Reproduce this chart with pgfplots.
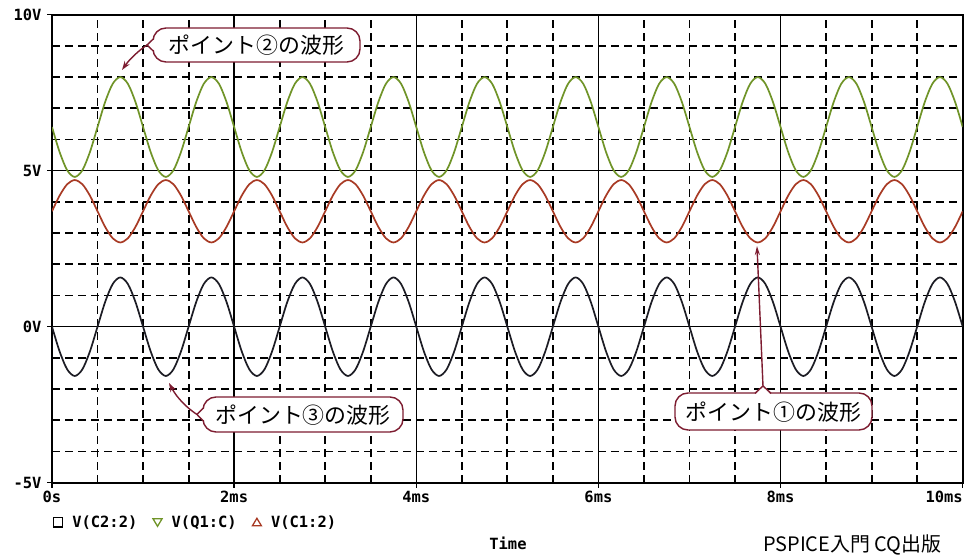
\documentclass[border=0pt]{standalone}
\usepackage{fontspec}
\usepackage{pgfplots}
\pgfplotsset{compat=1.18}
\usepackage{pgfplotstable}
\usetikzlibrary{arrows.meta}
\newfontfamily\psfont{DejaVu Sans Mono}
\newfontfamily\jp{Noto Sans CJK JP}
\newcommand{\psf}{\psfont\bfseries\fontsize{15.5}{16}\selectfont}
\definecolor{wgreen}{RGB}{112,148,40}
\definecolor{wred}{RGB}{168,58,36}
\definecolor{wblack}{RGB}{28,28,36}
\definecolor{callout}{RGB}{125,28,48}

\pgfplotstableread{
t b g r
0.0000 0 6.4 3.7
0.0833 -0.79 5.6 4.2
0.1667 -1.368 5.014 4.566
0.2500 -1.58 4.8 4.7
0.3333 -1.368 5.014 4.566
0.4167 -0.79 5.6 4.2
0.5000 0 6.4 3.7
0.5833 0.79 7.2 3.2
0.6667 1.368 7.786 2.834
0.7500 1.58 8.0 2.7
0.8333 1.368 7.786 2.834
0.9167 0.79 7.2 3.2
1.0000 0 6.4 3.7
1.0833 -0.79 5.6 4.2
1.1667 -1.368 5.014 4.566
1.2500 -1.58 4.8 4.7
1.3333 -1.368 5.014 4.566
1.4167 -0.79 5.6 4.2
1.5000 0 6.4 3.7
1.5833 0.79 7.2 3.2
1.6667 1.368 7.786 2.834
1.7500 1.58 8.0 2.7
1.8333 1.368 7.786 2.834
1.9167 0.79 7.2 3.2
2.0000 0 6.4 3.7
2.0833 -0.79 5.6 4.2
2.1667 -1.368 5.014 4.566
2.2500 -1.58 4.8 4.7
2.3333 -1.368 5.014 4.566
2.4167 -0.79 5.6 4.2
2.5000 0 6.4 3.7
2.5833 0.79 7.2 3.2
2.6667 1.368 7.786 2.834
2.7500 1.58 8.0 2.7
2.8333 1.368 7.786 2.834
2.9167 0.79 7.2 3.2
3.0000 0 6.4 3.7
3.0833 -0.79 5.6 4.2
3.1667 -1.368 5.014 4.566
3.2500 -1.58 4.8 4.7
3.3333 -1.368 5.014 4.566
3.4167 -0.79 5.6 4.2
3.5000 0 6.4 3.7
3.5833 0.79 7.2 3.2
3.6667 1.368 7.786 2.834
3.7500 1.58 8.0 2.7
3.8333 1.368 7.786 2.834
3.9167 0.79 7.2 3.2
4.0000 0 6.4 3.7
4.0833 -0.79 5.6 4.2
4.1667 -1.368 5.014 4.566
4.2500 -1.58 4.8 4.7
4.3333 -1.368 5.014 4.566
4.4167 -0.79 5.6 4.2
4.5000 0 6.4 3.7
4.5833 0.79 7.2 3.2
4.6667 1.368 7.786 2.834
4.7500 1.58 8.0 2.7
4.8333 1.368 7.786 2.834
4.9167 0.79 7.2 3.2
5.0000 0 6.4 3.7
5.0833 -0.79 5.6 4.2
5.1667 -1.368 5.014 4.566
5.2500 -1.58 4.8 4.7
5.3333 -1.368 5.014 4.566
5.4167 -0.79 5.6 4.2
5.5000 0 6.4 3.7
5.5833 0.79 7.2 3.2
5.6667 1.368 7.786 2.834
5.7500 1.58 8.0 2.7
5.8333 1.368 7.786 2.834
5.9167 0.79 7.2 3.2
6.0000 0 6.4 3.7
6.0833 -0.79 5.6 4.2
6.1667 -1.368 5.014 4.566
6.2500 -1.58 4.8 4.7
6.3333 -1.368 5.014 4.566
6.4167 -0.79 5.6 4.2
6.5000 0 6.4 3.7
6.5833 0.79 7.2 3.2
6.6667 1.368 7.786 2.834
6.7500 1.58 8.0 2.7
6.8333 1.368 7.786 2.834
6.9167 0.79 7.2 3.2
7.0000 0 6.4 3.7
7.0833 -0.79 5.6 4.2
7.1667 -1.368 5.014 4.566
7.2500 -1.58 4.8 4.7
7.3333 -1.368 5.014 4.566
7.4167 -0.79 5.6 4.2
7.5000 0 6.4 3.7
7.5833 0.79 7.2 3.2
7.6667 1.368 7.786 2.834
7.7500 1.58 8.0 2.7
7.8333 1.368 7.786 2.834
7.9167 0.79 7.2 3.2
8.0000 0 6.4 3.7
8.0833 -0.79 5.6 4.2
8.1667 -1.368 5.014 4.566
8.2500 -1.58 4.8 4.7
8.3333 -1.368 5.014 4.566
8.4167 -0.79 5.6 4.2
8.5000 0 6.4 3.7
8.5833 0.79 7.2 3.2
8.6667 1.368 7.786 2.834
8.7500 1.58 8.0 2.7
8.8333 1.368 7.786 2.834
8.9167 0.79 7.2 3.2
9.0000 0 6.4 3.7
9.0833 -0.79 5.6 4.2
9.1667 -1.368 5.014 4.566
9.2500 -1.58 4.8 4.7
9.3333 -1.368 5.014 4.566
9.4167 -0.79 5.6 4.2
9.5000 0 6.4 3.7
9.5833 0.79 7.2 3.2
9.6667 1.368 7.786 2.834
9.7500 1.58 8.0 2.7
9.8333 1.368 7.786 2.834
9.9167 0.79 7.2 3.2
10.0000 0 6.4 3.7
}\wave

\begin{document}
\begin{tikzpicture}
\path[use as bounding box, fill=white] (0,0) rectangle (965bp,556bp);
\begin{axis}[
  at={(52bp,73.3bp)}, anchor=south west, scale only axis,
  width=910.7bp, height=468bp,
  xmin=0, xmax=10, ymin=-5, ymax=10,
  xtick={0,2,4,6,8,10},
  xticklabels={0s,2ms,4ms,6ms,8ms,{\llap{10ms}}},
  ytick={-5,0,5,10},
  yticklabels={-5V,0V,5V,10V},
  minor x tick num=3, minor y tick num=4,
  grid=both,
  major grid style={black, line width=1.3bp},
  minor grid style={black, line width=1.9bp, dash pattern=on 8bp off 5bp},
  axis line style={black, line width=1.7bp},
  tick pos=left, tick align=center,
  major tick length=10bp, minor tick length=0pt,
  major tick style={black, line width=1.4bp},
  xticklabel style={font=\psf},
  yticklabel style={font=\psf, xshift=-2bp},
  legend columns=3,
  legend cell align=left,
  legend style={at={(0,0)}, anchor=north west, xshift=1bp, yshift=-33bp,
    draw=none, fill=none, inner sep=0pt, outer sep=0pt,
    font=\psf,
    nodes={inner sep=0pt},
    /tikz/every odd column/.append style={column sep=9bp},
    /tikz/every even column/.append style={column sep=15bp}},
]
\addplot[forget plot, wblack, line width=1.7bp, smooth] table[x=t, y=b] {\wave};
\addplot[forget plot, wgreen, line width=1.7bp, smooth] table[x=t, y=g] {\wave};
\addplot[forget plot, wred, line width=1.7bp, smooth] table[x=t, y=r] {\wave};
\addlegendimage{legend image code/.code={\draw[black, line width=1.3bp] (0.6bp,-4.6bp) rectangle (9.6bp,4.6bp);}}
\addlegendentry{V(C2:2)}
\addlegendimage{legend image code/.code={\draw[wgreen, line width=1.3bp] (0.5bp,3.5bp) -- (9.5bp,3.5bp) -- (5bp,-4bp) -- cycle;}}
\addlegendentry{V(Q1:C)}
\addlegendimage{legend image code/.code={\draw[wred, line width=1.3bp] (0.5bp,-3.5bp) -- (9.5bp,-3.5bp) -- (5bp,4bp) -- cycle;}}
\addlegendentry{V(C1:2)}
\end{axis}

\begin{scope}[x=1bp, y=-1bp, shift={(0bp,556bp)}]
  % callout 2
  \draw[callout, line width=1.4bp, fill=white, rounded corners=13bp] (153,28) rectangle (360,62);
  \fill[white] (152,40) -- (147,45) -- (152,50) -- (156,50) -- (156,40) -- cycle;
  \draw[callout, line width=1.4bp] (153.3,39) -- (147,45) -- (153.3,51);
  \node[font=\jp\fontsize{22}{22}\selectfont, inner sep=0pt] at (256.5,45.5) {ポイント②の波形};
  \draw[callout, line width=1.4bp, -{Stealth[length=9bp,width=6bp]}] (147,45) .. controls (138,51) and (129,60) .. (122,70);
  % callout 3
  \draw[callout, line width=1.4bp, fill=white, rounded corners=13bp] (203,397) rectangle (403,432);
  \fill[white] (202,409) -- (197,414.5) -- (202,420) -- (206,420) -- (206,409) -- cycle;
  \draw[callout, line width=1.4bp] (203.3,408) -- (197,414.5) -- (203.3,421);
  \node[font=\jp\fontsize{22}{22}\selectfont, inner sep=0pt] at (303,415) {ポイント③の波形};
  \draw[callout, line width=1.4bp, -{Stealth[length=9bp,width=6bp]}] (197,414.5) .. controls (187,408) and (177,398) .. (169,383);
  % callout 1
  \draw[callout, line width=1.4bp, fill=white, rounded corners=13bp] (675,393) rectangle (872,430);
  \fill[white] (756,394) -- (763,386) -- (770,394) -- (770,397) -- (756,397) -- cycle;
  \draw[callout, line width=1.4bp] (755,393.3) -- (763,386) -- (771,393.3);
  \node[font=\jp\fontsize{22}{22}\selectfont, inner sep=0pt] at (773.5,412) {ポイント①の波形};
  \draw[callout, line width=1.4bp, -{Stealth[length=9bp,width=5bp]}] (763,386) -- (757,246);
  % bottom texts
  \node[font=\psf, inner sep=0pt] at (508,543) {Time};
  \node[anchor=west, font=\jp\fontsize{20}{20}\selectfont, inner sep=0pt] at (763,545) {PSPICE入門 CQ出版};
\end{scope}
\end{tikzpicture}
\end{document}
